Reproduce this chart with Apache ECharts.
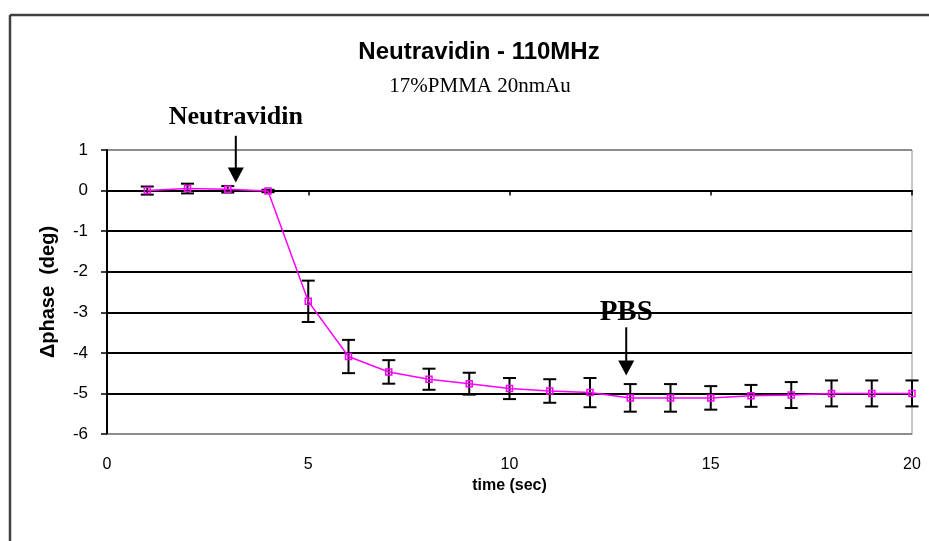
<!DOCTYPE html>
<html>
<head>
<meta charset="utf-8">
<script src="https://cdn.jsdelivr.net/npm/echarts@6/dist/echarts.min.js"></script>
<style>
html,body{margin:0;padding:0;background:#fff;}
#main{width:929px;height:541px;}
</style>
</head>
<body>
<div id="main"></div>
<script>
// ---- data ----
var titleText = 'Neutravidin - 110MHz';
var subtitleText = '17%PMMA 20nmAu';
var xName = 'time (sec)';
var yName = '\u0394phase  (deg)';
var time  = [1, 2, 3, 4, 5, 6, 7, 8, 9, 10, 11, 12, 13, 14, 15, 16, 17, 18, 19, 20];
var phase = [0.00, 0.05, 0.03, -0.01, -2.73, -4.09, -4.47, -4.65, -4.76, -4.88, -4.94, -4.98, -5.11, -5.11, -5.11, -5.06, -5.04, -5.00, -5.00, -5.00];
var err   = [0.10, 0.12, 0.08, 0.03, 0.51, 0.41, 0.29, 0.26, 0.27, 0.26, 0.29, 0.36, 0.34, 0.34, 0.29, 0.27, 0.32, 0.32, 0.32, 0.32];
var xTicks = [0, 5, 10, 15, 20];
var yTicks = [-6, -5, -4, -3, -2, -1, 0, 1];
// annotations: label, x position, label y, arrow start y, arrow tip y (data units)
var annLabels = ['Neutravidin', 'PBS'];
var annX      = [3.2, 12.9];
var annTextY  = [1.8, -3.0];
var annStartY = [1.35, -3.37];
var annTipY   = [0.2, -4.56];

var lineData = time.map(function (t, i) { return [t, phase[i]]; });
var errData = time.map(function (t, i) { return [t, phase[i] - err[i], phase[i] + err[i]]; });

var chart = echarts.init(document.getElementById('main'), null, {renderer: 'canvas'});

var gridLineColors = yTicks.map(function (v, i) {
  return (i === 0 || i === yTicks.length - 1) ? '#8c8c8c' : '#000000';
});

var option = {
  backgroundColor: '#ffffff',
  animation: false,
  title: [
    {text: titleText, left: 474, top: 35, textAlign: 'center',
     textStyle: {fontFamily: 'Liberation Sans, Arial', fontWeight: 'bold', fontSize: 24, color: '#000'}},
    {text: subtitleText, left: 475, top: 71, textAlign: 'center',
     textStyle: {fontFamily: 'Liberation Serif, Times New Roman', fontWeight: 'normal', fontSize: 21, color: '#000'}}
  ],
  grid: {left: 107, right: 17, top: 150, bottom: 107, show: true, borderColor: '#8c8c8c', borderWidth: 1, backgroundColor: 'transparent', containLabel: false},
  xAxis: [
    {type: 'value', min: 0, max: 20, interval: 5, position: 'bottom',
     name: xName, nameLocation: 'middle', nameGap: 40,
     nameTextStyle: {fontFamily: 'Liberation Sans, Arial', fontWeight: 'bold', fontSize: 16, color: '#000'},
     axisLine: {onZero: false, lineStyle: {color: '#8c8c8c', width: 1}},
     axisTick: {show: false},
     axisLabel: {margin: 23, fontFamily: 'Liberation Sans, Arial', fontSize: 16, color: '#000'},
     splitLine: {show: false}},
    {type: 'value', min: 0, max: 20, interval: 5, position: 'bottom',
     axisLine: {show: true, onZero: true, lineStyle: {color: '#000', width: 2}},
     axisTick: {show: true, inside: false, length: 5, lineStyle: {color: '#000', width: 1.5}},
     axisLabel: {show: false},
     splitLine: {show: false}}
  ],
  yAxis: {
    type: 'value', min: -6, max: 1, interval: 1,
    name: yName, nameLocation: 'middle', nameGap: 49, nameRotate: 90,
    nameTextStyle: {fontFamily: 'Liberation Sans, Arial', fontWeight: 'bold', fontSize: 20, color: '#000'},
    axisLine: {show: true, onZero: false, lineStyle: {color: '#000', width: 2}},
    axisTick: {show: true, inside: false, length: 6, lineStyle: {color: '#000', width: 1.5}},
    axisLabel: {margin: 19, fontFamily: 'Liberation Sans, Arial', fontSize: 17, color: '#000'},
    splitLine: {show: true, lineStyle: {color: gridLineColors, width: 2}}
  },
  series: [
    {
      type: 'custom', name: 'err', xAxisIndex: 0, yAxisIndex: 0, z: 3,
      data: errData,
      renderItem: function (params, api) {
        var x = api.value(0);
        var lo = api.coord([x, api.value(1)]);
        var hi = api.coord([x, api.value(2)]);
        var cap = 6.5;
        var st = {stroke: '#000', lineWidth: 2};
        return {type: 'group', children: [
          {type: 'line', shape: {x1: lo[0], y1: lo[1], x2: hi[0], y2: hi[1]}, style: st},
          {type: 'line', shape: {x1: lo[0] - cap, y1: lo[1], x2: lo[0] + cap, y2: lo[1]}, style: st},
          {type: 'line', shape: {x1: hi[0] - cap, y1: hi[1], x2: hi[0] + cap, y2: hi[1]}, style: st}
        ]};
      }
    },
    {
      type: 'line', name: 'phase', xAxisIndex: 0, yAxisIndex: 0, z: 4,
      data: lineData,
      showSymbol: true, symbol: 'rect', symbolSize: 6,
      lineStyle: {color: '#ff00ff', width: 1.5},
      itemStyle: {color: 'rgba(255,255,255,0)', borderColor: '#ff00ff', borderWidth: 1.5},
      emphasis: {disabled: true}
    }
  ]
};
chart.setOption(option);

// annotations (arrows + labels), placed through the chart's coordinate conversion
var g = [
  {type: 'line', shape: {x1: 10, y1: 15, x2: 929, y2: 15}, style: {stroke: '#404040', lineWidth: 2.5}},
  {type: 'line', shape: {x1: 10, y1: 15, x2: 10, y2: 541}, style: {stroke: '#404040', lineWidth: 2.5}}
];
var annSizes = [26, 29];
annLabels.forEach(function (lab, i) {
  var pT = chart.convertToPixel({gridIndex: 0}, [annX[i], annTextY[i]]);
  var pS = chart.convertToPixel({gridIndex: 0}, [annX[i], annStartY[i]]);
  var pE = chart.convertToPixel({gridIndex: 0}, [annX[i], annTipY[i]]);
  var headH = 15, headW = 8;
  g.push({type: 'text', x: pT[0], y: pT[1], z: 10,
    style: {text: lab, fill: '#000', font: 'bold ' + annSizes[i] + 'px "Liberation Serif", "Times New Roman", serif',
      textAlign: 'center', textVerticalAlign: 'middle'}});
  g.push({type: 'line', z: 10, shape: {x1: pS[0], y1: pS[1], x2: pE[0], y2: pE[1] - headH + 2}, style: {stroke: '#000', lineWidth: 2}});
  g.push({type: 'polygon', z: 10, shape: {points: [[pE[0] - headW, pE[1] - headH], [pE[0] + headW, pE[1] - headH], [pE[0], pE[1]]]}, style: {fill: '#000'}});
});
chart.setOption({graphic: g});
</script>
</body>
</html>
